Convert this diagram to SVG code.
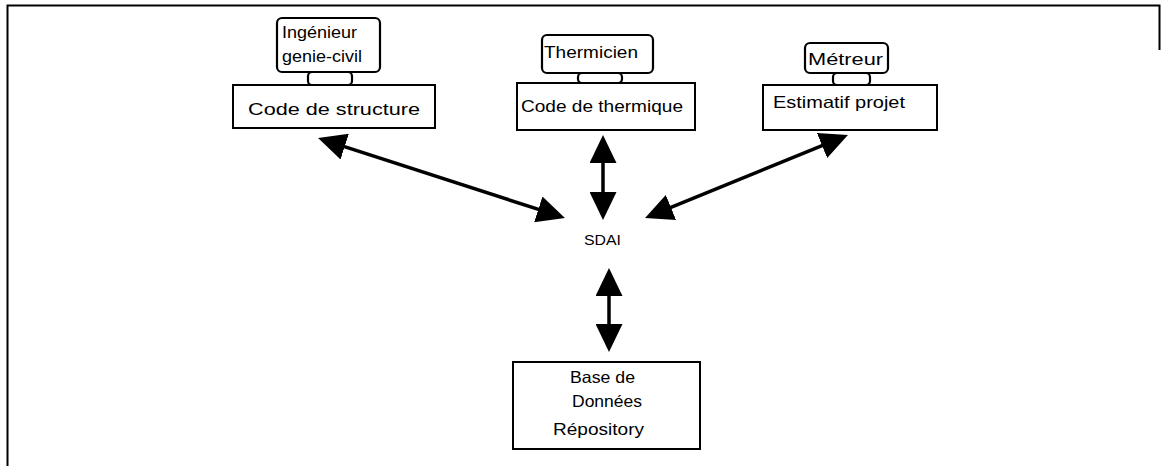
<svg xmlns="http://www.w3.org/2000/svg" width="1161" height="466" viewBox="0 0 1161 466">
<style>
.box{fill:#fff;stroke:#000;stroke-width:2}
.rbox{fill:#fff;stroke:#000;stroke-width:2.2}
.t{font-family:"Liberation Sans",Arial,sans-serif;font-size:16.5px;fill:#000}
.c{stroke:#000;stroke-width:3.5;fill:none;marker-start:url(#ah);marker-end:url(#ah)}
</style>
<defs>
<marker id="ah" markerUnits="userSpaceOnUse" markerWidth="28" markerHeight="27" viewBox="0 0 28 27" refX="6" refY="13.5" orient="auto-start-reverse">
<path d="M0,0 L28,13.5 L0,27 z" fill="#000"/>
</marker>
</defs>
<path d="M7.5,466 V5.5 H1159.5 V50" fill="none" stroke="#000" stroke-width="2"/>
<g id="connectors">
<line class="c" x1="339" y1="144.8" x2="544" y2="211.2"/>
<line class="c" x1="603" y1="157" x2="603" y2="198"/>
<line class="c" x1="827.6" y1="143.3" x2="665.4" y2="209.7"/>
<line class="c" x1="609" y1="290" x2="609" y2="330"/>
</g>
<g id="ingenieur">
<rect class="rbox" x="277" y="18" width="103" height="54" rx="5"/>
<text class="t" x="282" y="38" textLength="75" lengthAdjust="spacingAndGlyphs">Ingénieur</text>
<text class="t" x="282" y="62" textLength="80" lengthAdjust="spacingAndGlyphs">genie-civil</text>
</g>
<g id="link-structure"><rect class="rbox" x="308" y="72" width="44" height="13" rx="4"/></g>
<g id="code-structure">
<rect class="box" x="233" y="85" width="202" height="43"/>
<text class="t" x="248" y="115" textLength="172" lengthAdjust="spacingAndGlyphs">Code de structure</text>
</g>
<g id="thermicien">
<rect class="rbox" x="542" y="35" width="111" height="38" rx="5"/>
<text class="t" x="544" y="58" textLength="94" lengthAdjust="spacingAndGlyphs">Thermicien</text>
</g>
<g id="link-thermique"><rect class="rbox" x="578" y="73" width="44" height="10" rx="4"/></g>
<g id="code-thermique">
<rect class="box" x="517" y="83" width="178" height="47"/>
<text class="t" x="521" y="112" textLength="162" lengthAdjust="spacingAndGlyphs">Code de thermique</text>
</g>
<g id="metreur">
<rect class="rbox" x="805" y="43" width="83" height="30" rx="5"/>
<text class="t" x="808" y="65" textLength="75" lengthAdjust="spacingAndGlyphs">Métreur</text>
</g>
<g id="link-estimatif"><rect class="rbox" x="833" y="73" width="37" height="12" rx="4"/></g>
<g id="estimatif">
<rect class="box" x="763" y="85" width="174" height="45"/>
<text class="t" x="773" y="108" textLength="132" lengthAdjust="spacingAndGlyphs">Estimatif projet</text>
</g>
<g id="sdai">
<text class="t" x="584" y="245" textLength="37" lengthAdjust="spacingAndGlyphs" style="font-size:15px">SDAI</text>
</g>
<g id="base">
<rect class="box" x="513" y="362" width="187" height="87"/>
<text class="t" x="570" y="383" textLength="65" lengthAdjust="spacingAndGlyphs">Base de</text>
<text class="t" x="572" y="407" textLength="70" lengthAdjust="spacingAndGlyphs">Données</text>
<text class="t" x="553" y="435" textLength="91" lengthAdjust="spacingAndGlyphs">Répository</text>
</g>
</svg>
